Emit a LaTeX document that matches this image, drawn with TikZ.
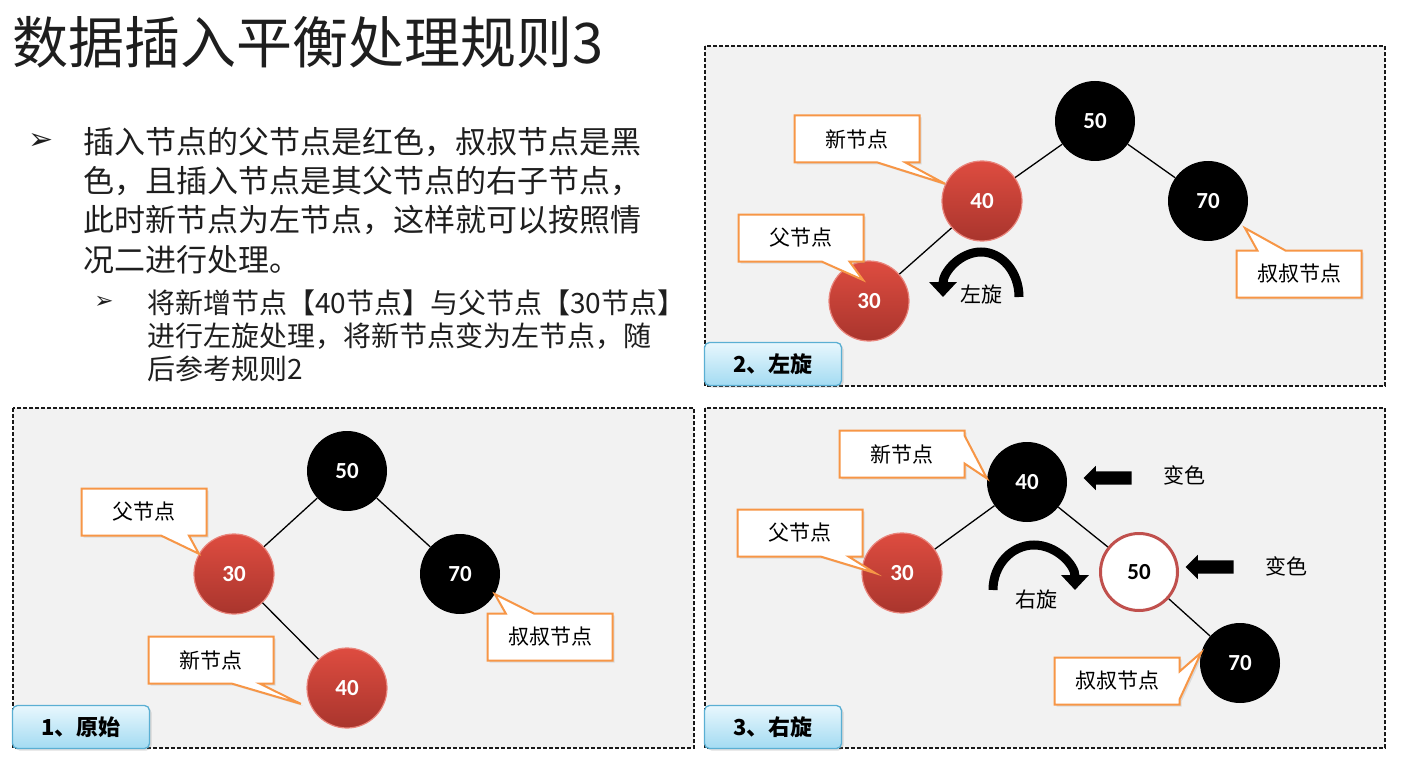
\documentclass[tikz,border=0pt]{standalone}
\usepackage{fontspec}
\setmainfont{Noto Sans CJK SC}
\newfontfamily\numfont{Carlito}
\newfontfamily\symfont{DejaVu Sans}
\usepackage{xcolor}
\usetikzlibrary{arrows.meta,shapes.callouts,shapes.arrows,shadows}
\definecolor{redtop}{HTML}{DE4C40}
\definecolor{redbot}{HTML}{A9352D}
\definecolor{redrim}{HTML}{E9857C}
\definecolor{noteline}{HTML}{F79646}
\definecolor{panelgray}{HTML}{F2F2F2}
\definecolor{tagtop}{HTML}{E8F7FD}
\definecolor{tagbot}{HTML}{A3DBF2}
\definecolor{tagline}{HTML}{5AAFD3}
\definecolor{ringred}{HTML}{C0504D}
\definecolor{ink}{HTML}{1E1E1E}

\begin{document}
\begin{tikzpicture}[
        x=1pt, y=-1pt,
        panel/.style={draw=black!90, fill=panelgray, line width=1.6pt,
            dash pattern=on 4pt off 2pt},
        tag/.style={draw=tagline, line width=1.3pt, rounded corners=5pt,
            top color=tagtop, bottom color=tagbot, minimum width=137pt,
            minimum height=43pt, inner sep=0pt,
            font=\fontsize{22}{24}\selectfont\bfseries,
            drop shadow={opacity=0.25, shadow xshift=2pt, shadow yshift=-2pt}},
        keyfont/.style={font=\numfont\bfseries\fontsize{23}{25}\selectfont},
        rednode/.style={circle, minimum size=80pt, inner sep=0pt, keyfont,
            top color=redtop, bottom color=redbot, draw=redrim,
            line width=1.2pt, text=white},
        blacknode/.style={circle, minimum size=80pt, inner sep=0pt, keyfont,
            fill=black, text=white},
        ringnode/.style={circle, minimum size=77pt, inner sep=0pt, keyfont,
            fill=white, draw=ringred, line width=3pt, text=black},
        edge/.style={line width=1.3pt},
        note/.style={rectangle callout, draw=noteline, fill=white,
            line width=2pt, minimum width=125pt, minimum height=47pt,
            callout pointer width=28pt, font=\fontsize{21}{23}\selectfont,
            drop shadow={opacity=0.2, shadow xshift=2pt, shadow yshift=-2pt}},
        turn/.style={line width=9pt, -{Triangle[length=15pt, width=27pt]}},
        paint/.style={single arrow, fill=black, shape border rotate=180,
            minimum height=48pt, inner sep=6.5pt,
            single arrow head extend=5.5pt},
        word/.style={font=\fontsize{21}{24}\selectfont}
    ]
        \useasboundingbox (0,0) rectangle (1401,773);

        % Title and rule text.
        \node[anchor=base west, inner sep=0pt, text=ink,
            font=\fontsize{56}{60}\selectfont] (title) at (12,64)
            {数据插入平衡处理规则3};
        \node[text=ink, inner sep=0pt, font=\symfont\fontsize{30}{32}\selectfont]
            (mark) at (41,142) {➢};
        \node[anchor=base west, align=left, inner sep=0pt, text=ink,
            font=\fontsize{31}{39.3}\selectfont] (rule) at (83,271)
            {插入节点的父节点是红色，叔叔节点是黑\\色，且插入节点是其父节点的右子节点，\\此时新节点为左节点，这样就可以按照情\\况二进行处理。};
        \node[text=ink, inner sep=0pt, font=\symfont\fontsize{23}{25}\selectfont]
            (submark) at (104,302) {➢};
        \node[anchor=base west, align=left, inner sep=0pt, text=ink,
            font=\fontsize{28}{33}\selectfont] (subrule) at (147,379)
            {将新增节点【40节点】与父节点【30节点】\\进行左旋处理，将新节点变为左节点，随\\后参考规则2};

        % Panels.
        \draw[panel] (13,408) rectangle (694,748);
        \draw[panel] (705,46) rectangle (1385,386);
        \draw[panel] (705,408) rectangle (1385,748);

        % 1: original tree.
        \node[blacknode] (o50) at (347,471) {50};
        \node[rednode] (o30) at (234,574) {30};
        \node[blacknode] (o70) at (460,574) {70};
        \node[rednode] (o40) at (347,688) {40};
        \draw[edge] (o50) -- (o30);
        \draw[edge] (o50) -- (o70);
        \draw[edge] (o30) -- (o40);
        \node[note, callout absolute pointer={(o30.150)}] (onparent)
            at (144,512) {父节点};
        \node[note, callout absolute pointer={([shift={(-8,2)}]o40.200)}] (onnew)
            at (211,660) {新节点};
        \node[note, callout absolute pointer={(o70.-30)}] (onuncle)
            at (550,637) {叔叔节点};
        \node[tag] (otag) at (81,727) {1、原始};

        % 2: left rotation.
        \node[blacknode] (l50) at (1095,121) {50};
        \node[rednode] (l40) at (982,201) {40};
        \node[blacknode] (l70) at (1208,201) {70};
        \node[rednode] (l30) at (869,301) {30};
        \draw[edge] (l50) -- (l40);
        \draw[edge] (l50) -- (l70);
        \draw[edge] (l40) -- (l30);
        \node[note, callout absolute pointer={(l40.155)}] (lnnew)
            at (857,139) {新节点};
        \node[note, callout absolute pointer={([shift={(-6,-21)}]l30.center)}]
            (lnparent) at (801,238) {父节点};
        \node[note, callout absolute pointer={([shift={(4,4)}]l70.-35)}]
            (lnuncle) at (1299,274) {叔叔节点};
        \draw[turn] (1019,297) arc[start angle=0, end angle=180,
            x radius=38pt, y radius=45pt];
        \node[word] (lword) at (981,295) {左旋};
        \node[tag] (ltag) at (773,364) {2、左旋};

        % 3: right rotation and recolouring.
        \node[blacknode] (r40) at (1027,482) {40};
        \node[rednode] (r30) at (902,573) {30};
        \node[ringnode] (r50) at (1139,572) {50};
        \node[blacknode] (r70) at (1240,663) {70};
        \draw[edge] (r40) -- (r30);
        \draw[edge] (r40) -- (r50);
        \draw[edge] (r50) -- (r70);
        \node[note, callout absolute pointer={(r40.175)}] (rnnew)
            at (902,454) {新节点};
        \node[note, callout absolute pointer={([shift={(-27,0)}]r30.center)}]
            (rnparent) at (800,533) {父节点};
        \node[note, callout absolute pointer={(r70.165)}] (rnuncle)
            at (1117,681) {叔叔节点};
        \draw[turn] (993,590) arc[start angle=180, end angle=0,
            x radius=41pt, y radius=45pt];
        \node[word] (rword) at (1036,600) {右旋};
        \node[paint] (paint40) at (1111,478) {};
        \node[word] (recolour40) at (1184,475) {变色};
        \node[paint] (paint50) at (1213,567) {};
        \node[word] (recolour50) at (1286,566) {变色};
        \node[tag] (rtag) at (773,727) {3、右旋};
\end{tikzpicture}
\end{document}
